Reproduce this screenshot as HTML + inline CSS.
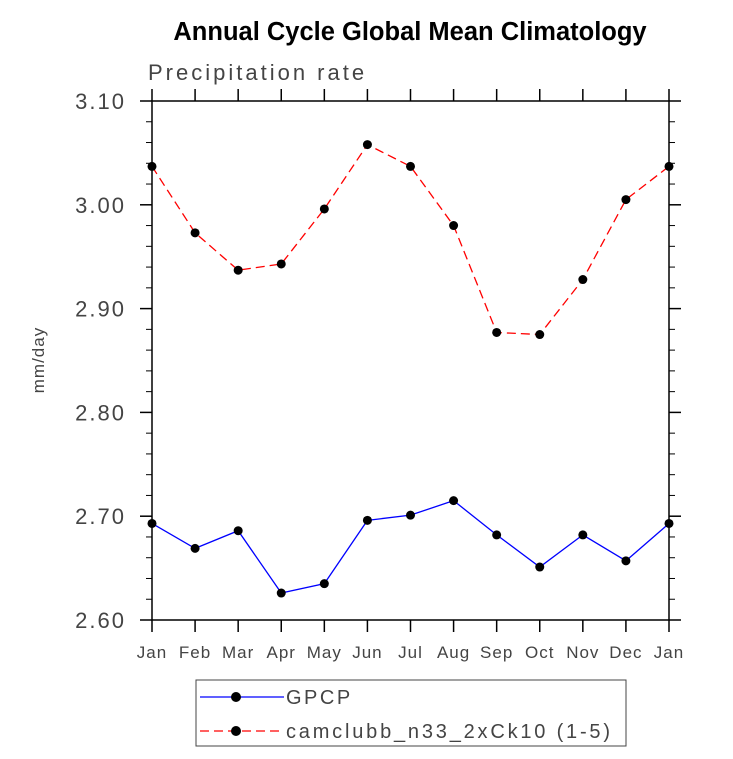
<!DOCTYPE html>
<html><head><meta charset="utf-8"><style>
body{margin:0;background:#fff;width:733px;height:754px;overflow:hidden}
svg text{font-family:"Liberation Sans",sans-serif}
</style></head><body>
<svg id="chart" width="733" height="754" xmlns="http://www.w3.org/2000/svg">
<text x="410" y="40" text-anchor="middle" font-size="25.5" font-weight="bold" fill="#000">Annual Cycle Global Mean Climatology</text>
<text x="148" y="80" font-size="22" fill="#444" letter-spacing="3">Precipitation rate</text>
<text transform="translate(44,360) rotate(-90)" text-anchor="middle" font-size="17" fill="#444" letter-spacing="1">mm/day</text>
<g id="axes"></g>
<g id="series"></g>
<g>
<rect x="196" y="680" width="430" height="66" fill="none" stroke="#444" stroke-width="1"/>
<line x1="200" y1="697" x2="284" y2="697" stroke="#0000ff" stroke-width="1.2"/>
<circle cx="236" cy="697" r="5" fill="#000"/>
<text x="286" y="704" font-size="20" fill="#444" letter-spacing="2.5">GPCP</text>
<line x1="200" y1="731" x2="284" y2="731" stroke="#ff0000" stroke-width="1.2" stroke-dasharray="9,5"/>
<circle cx="236" cy="731" r="5" fill="#000"/>
<text x="286" y="738" font-size="20" fill="#444" letter-spacing="2.8">camclubb_n33_2xCk10 (1-5)</text>
</g>
</svg>
<script>
const months=["Jan","Feb","Mar","Apr","May","Jun","Jul","Aug","Sep","Oct","Nov","Dec","Jan"];
const gpcp=[2.693,2.669,2.686,2.626,2.635,2.696,2.701,2.715,2.682,2.651,2.682,2.657,2.693];
const model=[3.037,2.973,2.937,2.943,2.996,3.058,3.037,2.980,2.877,2.875,2.928,3.005,3.037];
const yTicks=["2.60","2.70","2.80","2.90","3.00","3.10"];
const NS="http://www.w3.org/2000/svg";
const L=152,R=669,T=101,B=620,ymin=2.6,ymax=3.1;
const xs=i=>L+(R-L)*i/(months.length-1);
const ys=v=>B-(v-ymin)/(ymax-ymin)*(B-T);
function mk(tag,attrs,parent){const e=document.createElementNS(NS,tag);for(const k in attrs)e.setAttribute(k,attrs[k]);parent.appendChild(e);return e;}
const ax=document.getElementById('axes');
const frame=mk('rect',{x:L,y:T,width:R-L,height:B-T,fill:'none',stroke:'#000','stroke-width':1.5},ax);


months.forEach((m,i)=>{
  const x=xs(i);
  mk('line',{x1:x,y1:B,x2:x,y2:B+12,stroke:'#000','stroke-width':1.5},ax);
  mk('line',{x1:x,y1:T,x2:x,y2:T-12,stroke:'#000','stroke-width':1.5},ax);
  const t=mk('text',{x:x,y:B+38,'text-anchor':'middle','font-size':17,fill:'#444','letter-spacing':1},ax);
  t.textContent=m;
  
  
});
for(let k=0;k<=25;k++){
  const v=ymin+k*0.02,y=ys(v),major=k%5===0;
  const len=major?12:6;
  mk('line',{x1:L,y1:y,x2:L-len,y2:y,stroke:'#000','stroke-width':major?1.5:1},ax);
  mk('line',{x1:R,y1:y,x2:R+len,y2:y,stroke:'#000','stroke-width':major?1.5:1},ax);
}
yTicks.forEach(s=>{
  const t=mk('text',{x:126,y:ys(parseFloat(s))+8,'text-anchor':'end','font-size':22,fill:'#444','letter-spacing':2},ax);
  t.textContent=s;
  
  
});
const sg=document.getElementById('series');
function draw(vals,color,dash,name){
  const p=mk('polyline',{points:vals.map((v,i)=>xs(i)+','+ys(v)).join(' '),fill:'none',stroke:color,'stroke-width':1.3,'stroke-dasharray':dash},sg);
  
  
  vals.forEach((v,i)=>{
    const c=mk('circle',{cx:xs(i),cy:ys(v),r:4.5,fill:'#000'},sg);
    
    
  });
}
draw(gpcp,'#0000ff','none','gpcp');
draw(model,'#ff0000','9,5','model');
</script>
</body></html>
